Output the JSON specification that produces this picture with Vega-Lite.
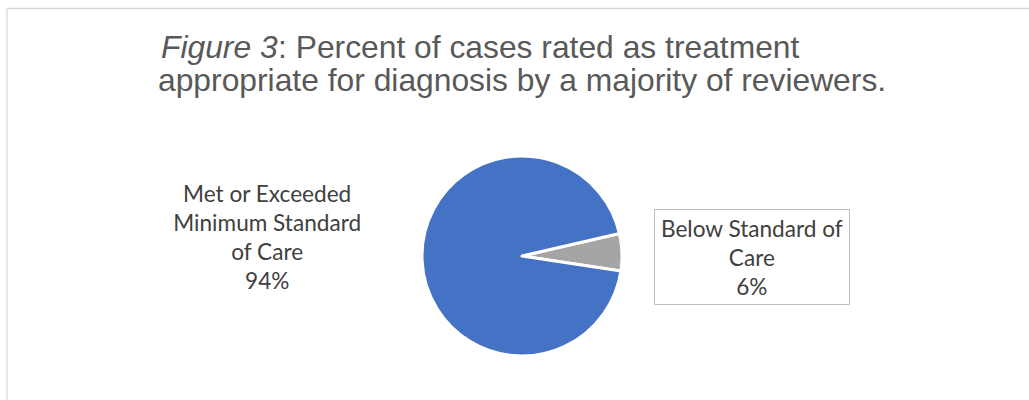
{
  "$schema": "https://vega.github.io/schema/vega-lite/v6.json",
  "width": 1014,
  "height": 288,
  "autosize": {"type": "none"},
  "padding": {"left": 15, "top": 112, "right": 0, "bottom": 0},
  "background": "white",
  "config": {"view": {"stroke": null}},
  "datasets": {
    "slices": [
      {"category": "Below Standard of Care", "percent": 6, "label": "Below Standard of\nCare\n6%"},
      {"category": "Met or Exceeded Minimum Standard of Care", "percent": 94, "label": "Met or Exceeded\nMinimum Standard\nof Care\n94%"}
    ]
  },
  "layer": [
    {
      "data": {"values": [{}]},
      "mark": {"type": "rect", "fill": "transparent", "stroke": "#d9d9d9", "strokeWidth": 1.3},
      "encoding": {"x": {"value": -8}, "y": {"value": -103.5}, "x2": {"value": 1200}, "y2": {"value": 600}}
    },
    {
      "data": {"name": "slices"},
      "mark": {"type": "arc", "outerRadius": 100, "stroke": "white", "strokeWidth": 3, "strokeJoin": "round"},
      "encoding": {
        "theta": {"field": "percent", "type": "quantitative", "stack": true, "scale": {"range": [1.3439, 7.6271]}},
        "color": {"field": "category", "type": "nominal", "scale": {"domain": ["Below Standard of Care", "Met or Exceeded Minimum Standard of Care"], "range": ["#a5a5a5", "#4472c4"]}, "legend": null},
        "order": {"field": "category", "sort": "ascending"}
      }
    },
    {
      "data": {"name": "slices"},
      "mark": {"type": "text", "radius": 255, "dy": -70.5, "font": "Lato", "fontSize": 22.6, "color": "#404040", "lineBreak": "\n", "lineHeight": 29, "align": "center", "baseline": "middle"},
      "encoding": {
        "theta": {"field": "percent", "type": "quantitative", "stack": true},
        "detail": {"field": "category"},
        "order": {"field": "category", "sort": "ascending"},
        "text": {"condition": {"test": "datum.percent > 50", "field": "label"}, "value": ""}
      }
    },
    {
      "data": {"name": "slices"},
      "mark": {"type": "text", "radius": 230, "dy": -17, "font": "Lato", "fontSize": 22.6, "color": "#404040", "lineBreak": "\n", "lineHeight": 29, "align": "center", "baseline": "middle"},
      "encoding": {
        "theta": {"field": "percent", "type": "quantitative", "stack": true},
        "detail": {"field": "category"},
        "order": {"field": "category", "sort": "ascending"},
        "text": {"condition": {"test": "datum.percent < 50", "field": "label"}, "value": ""}
      }
    },
    {
      "data": {"values": [{}]},
      "mark": {"type": "rect", "fill": "transparent", "stroke": "#bfbfbf", "strokeWidth": 1},
      "encoding": {"x": {"value": 639.5}, "x2": {"value": 834.5}, "y": {"value": 97.5}, "y2": {"value": 192.5}}
    },
    {
      "data": {"values": [{}]},
      "mark": {"type": "text", "text": "Figure 3", "x": 146, "y": -54, "align": "left", "baseline": "alphabetic", "font": "Liberation Sans", "fontSize": 31.8, "fontStyle": "italic", "color": "#595959"},
      "encoding": {}
    },
    {
      "data": {"values": [{}]},
      "mark": {"type": "text", "text": ": Percent of cases rated as treatment", "x": 263, "y": -54, "align": "left", "baseline": "alphabetic", "font": "Liberation Sans", "fontSize": 31.8, "color": "#595959"},
      "encoding": {}
    },
    {
      "data": {"values": [{}]},
      "mark": {"type": "text", "text": "appropriate for diagnosis by a majority of reviewers.", "x": 143, "y": -21, "align": "left", "baseline": "alphabetic", "font": "Liberation Sans", "fontSize": 31.8, "color": "#595959"},
      "encoding": {}
    }
  ]
}
